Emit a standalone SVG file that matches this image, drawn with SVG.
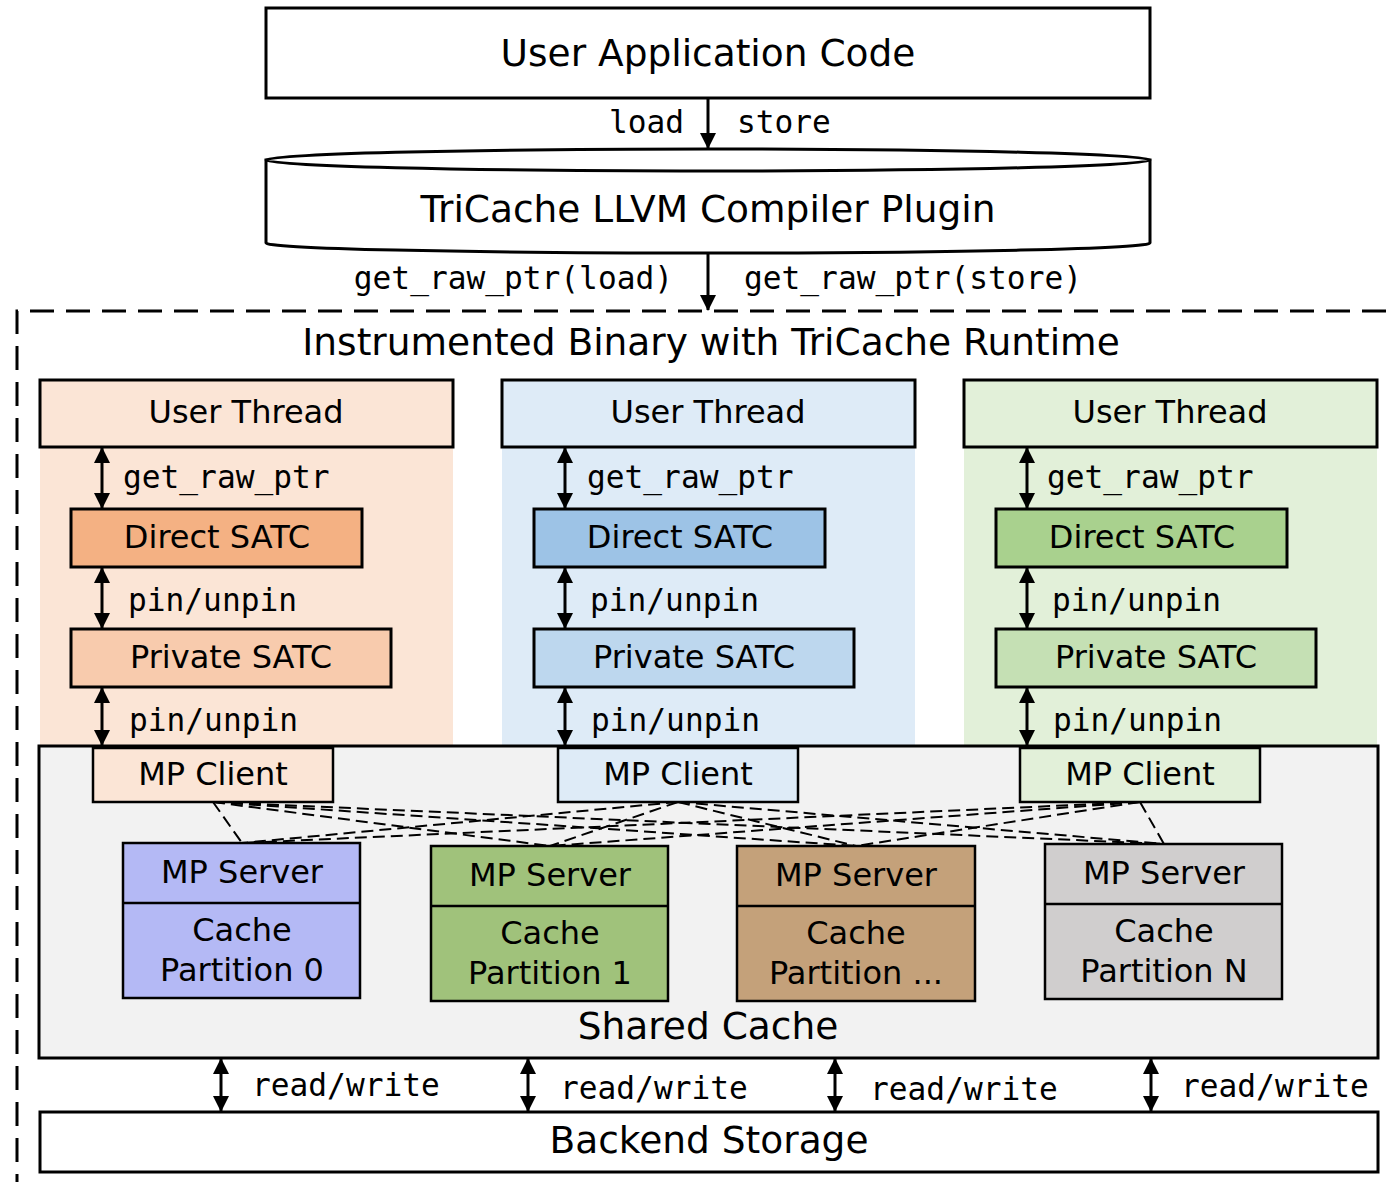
<svg xmlns="http://www.w3.org/2000/svg" width="1386" height="1182" viewBox="0 0 1386 1182">
<defs>
<style>
.sans{font-family:"DejaVu Sans","Liberation Sans",sans-serif;fill:#000}
.mono{font-family:"DejaVu Sans Mono","Liberation Mono",monospace;fill:#000;font-size:31.2px}
.box{stroke:#000;stroke-width:3}
.thin{stroke:#000;stroke-width:2.5}
.arr{stroke:#000;stroke-width:3;fill:none}
.dl{stroke:#000;stroke-width:2;stroke-dasharray:12 6;fill:none}
.big{font-size:37.5px}
.mid{font-size:32px}
</style>
<marker id="ah" viewBox="0 0 16 16" refX="15" refY="8" markerWidth="16" markerHeight="16" markerUnits="userSpaceOnUse" orient="auto-start-reverse">
<path d="M0,0 L16,8 L0,16 Z" fill="#000"/>
</marker>
</defs>
<rect width="1386" height="1182" fill="#fff"/>

<g id="app-code">
<rect class="box" x="266" y="8" width="884" height="90" fill="#fff"/>
<text class="sans big" x="708" y="66" text-anchor="middle">User Application Code</text>
</g>

<g id="compiler-plugin">
<path class="box" d="M266,160 L266,243 A442,10 0 0 0 1150,243 L1150,160 Z" fill="#fff"/>
<ellipse class="box" cx="708" cy="160" rx="442" ry="11" fill="#fff"/>
<text class="sans big" x="708" y="222" text-anchor="middle">TriCache LLVM Compiler Plugin</text>
</g>

<g id="runtime">
<path d="M1386,311 L17,311 L17,1182" fill="none" stroke="#000" stroke-width="3" stroke-dasharray="24 12"/>
<text class="sans big" x="711" y="355" text-anchor="middle">Instrumented Binary with TriCache Runtime</text>
</g>

<g id="thread-1">
<rect x="40" y="380" width="413" height="365" fill="#FBE5D6"/>
<rect class="box" x="40" y="380" width="413" height="67" fill="#FBE5D6"/>
<text class="sans mid" x="246" y="423" text-anchor="middle">User Thread</text>
<rect class="box" x="71" y="509" width="291" height="58" fill="#F4B183"/>
<text class="sans mid" x="217" y="548" text-anchor="middle">Direct SATC</text>
<rect class="box" x="71" y="629" width="320" height="58" fill="#F8CBAD"/>
<text class="sans mid" x="231" y="668" text-anchor="middle">Private SATC</text>
</g>
<g id="thread-2">
<rect x="502" y="380" width="413" height="365" fill="#DEEBF7"/>
<rect class="box" x="502" y="380" width="413" height="67" fill="#DEEBF7"/>
<text class="sans mid" x="708" y="423" text-anchor="middle">User Thread</text>
<rect class="box" x="534" y="509" width="291" height="58" fill="#9DC3E6"/>
<text class="sans mid" x="680" y="548" text-anchor="middle">Direct SATC</text>
<rect class="box" x="534" y="629" width="320" height="58" fill="#BDD7EE"/>
<text class="sans mid" x="694" y="668" text-anchor="middle">Private SATC</text>
</g>
<g id="thread-3">
<rect x="964" y="380" width="413" height="365" fill="#E2F0D9"/>
<rect class="box" x="964" y="380" width="413" height="67" fill="#E2F0D9"/>
<text class="sans mid" x="1170" y="423" text-anchor="middle">User Thread</text>
<rect class="box" x="996" y="509" width="291" height="58" fill="#A9D18E"/>
<text class="sans mid" x="1142" y="548" text-anchor="middle">Direct SATC</text>
<rect class="box" x="996" y="629" width="320" height="58" fill="#C5E0B4"/>
<text class="sans mid" x="1156" y="668" text-anchor="middle">Private SATC</text>
</g>

<g id="shared-cache">
<rect class="box" x="39" y="746" width="1339" height="312" fill="#F2F2F2"/>
<text class="sans" font-size="37.5" x="708" y="1039" text-anchor="middle">Shared Cache</text>
</g>

<g id="client-1">
<rect class="thin" x="93" y="748" width="240" height="54" fill="#FBE5D6"/>
<text class="sans mid" x="213" y="785" text-anchor="middle">MP Client</text>
</g>
<g id="client-2">
<rect class="thin" x="558" y="748" width="240" height="54" fill="#DEEBF7"/>
<text class="sans mid" x="678" y="785" text-anchor="middle">MP Client</text>
</g>
<g id="client-3">
<rect class="thin" x="1020" y="748" width="240" height="54" fill="#E2F0D9"/>
<text class="sans mid" x="1140" y="785" text-anchor="middle">MP Client</text>
</g>

<g id="server-0">
<rect class="thin" x="123" y="843" width="237" height="155" fill="#B4B9F5"/>
<line class="thin" x1="123" y1="903" x2="360" y2="903"/>
<text class="sans mid" x="242" y="883" text-anchor="middle">MP Server</text>
<text class="sans mid" x="242" y="941" text-anchor="middle">Cache</text>
<text class="sans mid" x="242" y="981" text-anchor="middle">Partition 0</text>
</g>
<g id="server-1">
<rect class="thin" x="431" y="846" width="237" height="155" fill="#A0C27B"/>
<line class="thin" x1="431" y1="906" x2="668" y2="906"/>
<text class="sans mid" x="550" y="886" text-anchor="middle">MP Server</text>
<text class="sans mid" x="550" y="944" text-anchor="middle">Cache</text>
<text class="sans mid" x="550" y="984" text-anchor="middle">Partition 1</text>
</g>
<g id="server-2">
<rect class="thin" x="737" y="846" width="238" height="155" fill="#C4A17A"/>
<line class="thin" x1="737" y1="906" x2="975" y2="906"/>
<text class="sans mid" x="856" y="886" text-anchor="middle">MP Server</text>
<text class="sans mid" x="856" y="944" text-anchor="middle">Cache</text>
<text class="sans mid" x="856" y="984" text-anchor="middle">Partition ...</text>
</g>
<g id="server-n">
<rect class="thin" x="1045" y="844" width="237" height="155" fill="#D0CECE"/>
<line class="thin" x1="1045" y1="904" x2="1282" y2="904"/>
<text class="sans mid" x="1164" y="884" text-anchor="middle">MP Server</text>
<text class="sans mid" x="1164" y="942" text-anchor="middle">Cache</text>
<text class="sans mid" x="1164" y="982" text-anchor="middle">Partition N</text>
</g>

<g id="backend-storage">
<rect class="box" x="40" y="1112" width="1338" height="60" fill="#fff"/>
<text class="sans big" x="709" y="1153" text-anchor="middle">Backend Storage</text>
</g>

<g id="connectors">
<line class="arr" x1="708" y1="98" x2="708" y2="148" marker-end="url(#ah)"/>
<text class="mono" x="684" y="133" text-anchor="end">load</text>
<text class="mono" x="737" y="133">store</text>
<line class="arr" x1="708" y1="254" x2="708" y2="310" marker-end="url(#ah)"/>
<text class="mono" x="673" y="289" text-anchor="end">get_raw_ptr(load)</text>
<text class="mono" x="744" y="289">get_raw_ptr(store)</text>

<line class="arr" x1="102" y1="448" x2="102" y2="508" marker-start="url(#ah)" marker-end="url(#ah)"/>
<line class="arr" x1="102" y1="568" x2="102" y2="628" marker-start="url(#ah)" marker-end="url(#ah)"/>
<line class="arr" x1="102" y1="688" x2="102" y2="745" marker-start="url(#ah)" marker-end="url(#ah)"/>
<text class="mono" x="123" y="488">get_raw_ptr</text>
<text class="mono" x="128" y="611">pin/unpin</text>
<text class="mono" x="129" y="731">pin/unpin</text>

<line class="arr" x1="565" y1="448" x2="565" y2="508" marker-start="url(#ah)" marker-end="url(#ah)"/>
<line class="arr" x1="565" y1="568" x2="565" y2="628" marker-start="url(#ah)" marker-end="url(#ah)"/>
<line class="arr" x1="565" y1="688" x2="565" y2="745" marker-start="url(#ah)" marker-end="url(#ah)"/>
<text class="mono" x="587" y="488">get_raw_ptr</text>
<text class="mono" x="590" y="611">pin/unpin</text>
<text class="mono" x="591" y="731">pin/unpin</text>

<line class="arr" x1="1027" y1="448" x2="1027" y2="508" marker-start="url(#ah)" marker-end="url(#ah)"/>
<line class="arr" x1="1027" y1="568" x2="1027" y2="628" marker-start="url(#ah)" marker-end="url(#ah)"/>
<line class="arr" x1="1027" y1="688" x2="1027" y2="745" marker-start="url(#ah)" marker-end="url(#ah)"/>
<text class="mono" x="1047" y="488">get_raw_ptr</text>
<text class="mono" x="1052" y="611">pin/unpin</text>
<text class="mono" x="1053" y="731">pin/unpin</text>

<line class="dl" x1="213" y1="802" x2="242" y2="843"/>
<line class="dl" x1="213" y1="802" x2="550" y2="846"/>
<line class="dl" x1="213" y1="802" x2="856" y2="846"/>
<line class="dl" x1="213" y1="802" x2="1164" y2="844"/>
<line class="dl" x1="678" y1="802" x2="242" y2="843"/>
<line class="dl" x1="678" y1="802" x2="550" y2="846"/>
<line class="dl" x1="678" y1="802" x2="856" y2="846"/>
<line class="dl" x1="678" y1="802" x2="1164" y2="844"/>
<line class="dl" x1="1140" y1="802" x2="242" y2="843"/>
<line class="dl" x1="1140" y1="802" x2="550" y2="846"/>
<line class="dl" x1="1140" y1="802" x2="856" y2="846"/>
<line class="dl" x1="1140" y1="802" x2="1164" y2="844"/>

<line class="arr" x1="221" y1="1059" x2="221" y2="1111" marker-start="url(#ah)" marker-end="url(#ah)"/>
<line class="arr" x1="528" y1="1059" x2="528" y2="1111" marker-start="url(#ah)" marker-end="url(#ah)"/>
<line class="arr" x1="835" y1="1059" x2="835" y2="1111" marker-start="url(#ah)" marker-end="url(#ah)"/>
<line class="arr" x1="1151" y1="1059" x2="1151" y2="1111" marker-start="url(#ah)" marker-end="url(#ah)"/>
<text class="mono" x="252" y="1096">read/write</text>
<text class="mono" x="560" y="1099">read/write</text>
<text class="mono" x="870" y="1100">read/write</text>
<text class="mono" x="1181" y="1097">read/write</text>
</g>
</svg>
